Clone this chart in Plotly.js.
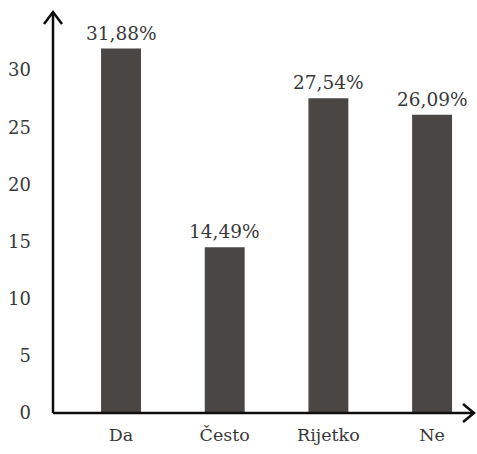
<!DOCTYPE html>
<html><head><meta charset="utf-8">
<script src="https://cdn.plot.ly/plotly-3.0.1.min.js"></script>
<style>html,body{margin:0;padding:0;background:#fff}#chart{width:477px;height:454px}</style>
</head><body><div id="chart"></div>
<script>
const categories = ['Da', 'Često', 'Rijetko', 'Ne'];
const values = [31.88, 14.49, 27.54, 26.09];
const yTicks = [0, 5, 10, 15, 20, 25, 30];

const font = 'DejaVu Serif';
const barColor = '#4a4644';
const axisColor = '#0d0d0d';

const trace = {
  type: 'bar',
  x: categories,
  y: values,
  width: 0.385,
  marker: {color: barColor},
  hoverinfo: 'none'
};

const labels = categories.map((c, i) => ({
  x: c, y: values[i], xref: 'x', yref: 'y',
  text: values[i].toFixed(2).replace('.', ',') + '%',
  showarrow: false, yanchor: 'bottom', yshift: 3,
  font: {family: font, size: 18.5, color: '#383838'}
}));

const layout = {
  width: 477, height: 454,
  margin: {l: 53, r: 5, t: 12, b: 41},
  paper_bgcolor: '#fff', plot_bgcolor: '#fff',
  showlegend: false,
  font: {family: font, color: '#383838', size: 18},
  xaxis: {
    range: [-0.656, 3.385],
    showline: false, zeroline: false, showgrid: false,
    ticks: '', ticklabelstandoff: 9,
    tickfont: {family: font, size: 17.5, color: '#383838'}
  },
  yaxis: {
    range: [0, 35.08],
    tickvals: yTicks,
    showline: false, zeroline: false, showgrid: false,
    ticks: '', ticklabelstandoff: 21,
    tickfont: {family: font, size: 18, color: '#383838'}
  },
  annotations: labels,
  shapes: [
    {type: 'line', xref: 'paper', yref: 'paper', x0: 0, x1: 1.0, y0: 0, y1: 0, line: {color: axisColor, width: 2.5}},
    {type: 'line', xref: 'paper', yref: 'paper', x0: 0, x1: 0, y0: 0, y1: 1, line: {color: axisColor, width: 2.5}},
    {type: 'path', xref: 'paper', yref: 'paper', xsizemode: 'pixel', ysizemode: 'pixel', xanchor: 0, yanchor: 1,
     path: 'M -9 -12 L 0 0 L 9 -12', line: {color: axisColor, width: 2.5}},
    {type: 'path', xref: 'paper', yref: 'paper', xsizemode: 'pixel', ysizemode: 'pixel', xanchor: 1, yanchor: 0,
     path: 'M -9 9 L 2 0 L -9 -9', line: {color: axisColor, width: 2.5}}
  ]
};

Plotly.newPlot('chart', [trace], layout, {staticPlot: true, displayModeBar: false});
</script>
</body></html>
